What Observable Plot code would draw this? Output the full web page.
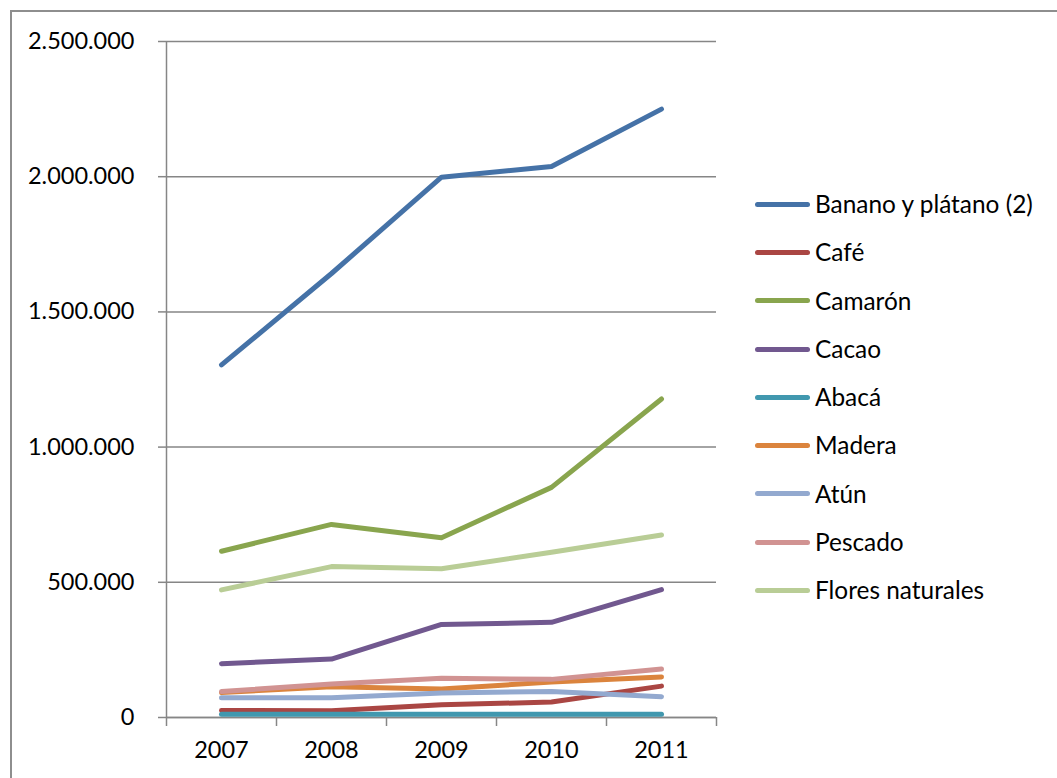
<!DOCTYPE html>
<html>
<head>
<meta charset="utf-8">
<script src="https://cdn.jsdelivr.net/npm/d3@7"></script>
<script src="https://cdn.jsdelivr.net/npm/@observablehq/plot@0.6"></script>
<style>
  html, body { margin: 0; padding: 0; background: #fff; overflow: hidden; }
  #wrap { position: relative; width: 1057px; height: 778px; overflow: hidden; font-family: Lato, sans-serif; }
  #frame { position: absolute; left: 10px; top: 10px; width: 1200px; height: 900px; border: 2px solid #8e8e8e; box-sizing: border-box; }
  #chart { position: absolute; left: 0; top: 0; }
  #legend { position: absolute; left: 755px; top: 180px; }
  .row { display: flex; align-items: center; height: 48.3px; }
  .sw { width: 55px; height: 5px; border-radius: 3px; margin-right: 5px; }
  .lab { font-size: 24.4px; color: #000; line-height: 1; }
</style>
</head>
<body>
<div id="wrap">
  <div id="frame"></div>
  <div id="chart"></div>
  <div id="legend"></div>
</div>
<script>
// Exportaciones por producto, 2007–2011
const years = [2007, 2008, 2009, 2010, 2011];

const seriesNames = [
  "Banano y plátano (2)", "Café", "Camarón", "Cacao", "Abacá",
  "Madera", "Atún", "Pescado", "Flores naturales"
];
const seriesColors = [
  "#4572A7", "#AA4643", "#89A54E", "#71588F", "#4198AF",
  "#DB843D", "#93A9CF", "#D19392", "#B9CD96"
];

const banano  = [1304000, 1642000, 1998000, 2038000, 2250000];
const cafe    = [26000, 25000, 47000, 57000, 116000];
const camaron = [615000, 714000, 665000, 851000, 1178000];
const cacao   = [199000, 216000, 344000, 352000, 473000];
const abaca   = [12000, 12000, 12000, 12000, 12000];
const madera  = [92000, 114000, 105000, 131000, 150000];
const atun    = [73000, 73000, 91000, 96000, 77000];
const pescado = [96000, 124000, 145000, 141000, 179000];
const flores  = [472000, 558000, 550000, 611000, 675000];

const yTicks = [0, 500000, 1000000, 1500000, 2000000, 2500000];

const seriesValues = [banano, cafe, camaron, cacao, abaca, madera, atun, pescado, flores];

// Long table, in drawing order (later series are drawn on top)
const rows = seriesNames.flatMap((name, i) =>
  years.map((year, j) => ({ series: name, year, value: seriesValues[i][j] }))
);

// Category boundaries for the x-axis tick marks
const bounds = [years[0] - 0.5, ...years.map(y => y + 0.5)];

const es = d3.formatLocale({ decimal: ",", thousands: ".", grouping: [3], currency: ["", ""] });
const fmt = es.format(",d");

const grid = "#868686";

const chart = Plot.plot({
  width: 1057,
  height: 778,
  marginLeft: 166,
  marginRight: 341,
  marginTop: 41,
  marginBottom: 61,
  style: { fontFamily: "Lato, sans-serif", fontSize: "23.5px", color: "#000", background: "transparent" },
  x: { type: "linear", domain: [bounds[0], bounds[bounds.length - 1]] },
  y: { domain: [0, 2500000] },
  color: { domain: seriesNames, range: seriesColors },
  marks: [
    Plot.gridY(yTicks, { stroke: grid, strokeOpacity: 1, strokeWidth: 1.5 }),
    Plot.axisY(yTicks, { tickSize: 8, tickPadding: 24, tickFormat: fmt, stroke: grid, strokeWidth: 1.5, label: null, fill: "#000" }),
    Plot.ruleX([bounds[0]], { stroke: grid, strokeWidth: 1.5 }),
    Plot.ruleY([0], { stroke: grid, strokeWidth: 1.5 }),
    Plot.axisX(bounds, { tickSize: 9, tickFormat: () => "", stroke: grid, strokeWidth: 1.5, label: null }),
    Plot.axisX(years, { tickSize: 0, tickPadding: 24, tickFormat: d => String(d), label: null, fill: "#000" }),
    Plot.line(rows, {
      x: "year", y: "value", z: "series", stroke: "series",
      strokeWidth: 5, strokeLinecap: "round", strokeLinejoin: "round"
    })
  ]
});
document.getElementById("chart").appendChild(chart);

// Legend on the right
const legend = document.getElementById("legend");
seriesNames.forEach((name, i) => {
  const row = document.createElement("div");
  row.className = "row";
  const sw = document.createElement("div");
  sw.className = "sw";
  sw.style.background = seriesColors[i];
  const lab = document.createElement("span");
  lab.className = "lab";
  lab.textContent = name;
  row.appendChild(sw);
  row.appendChild(lab);
  legend.appendChild(row);
});
</script>
</body>
</html>
